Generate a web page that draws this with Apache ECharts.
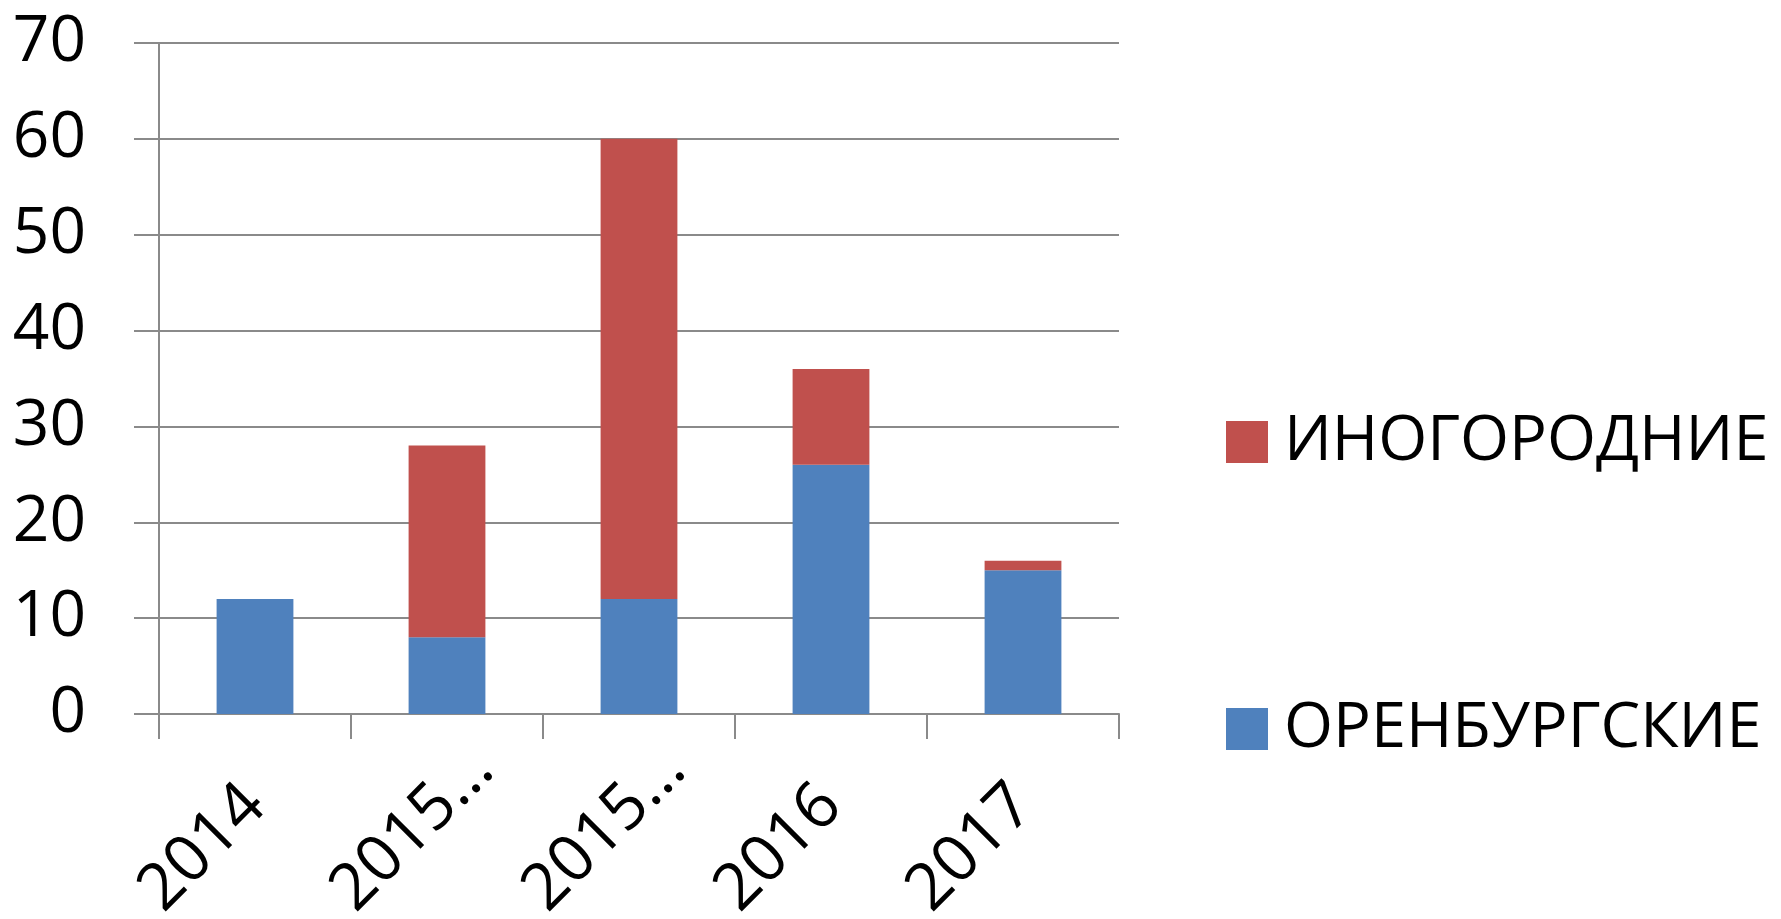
<!DOCTYPE html>
<html>
<head>
<meta charset="utf-8">
<script src="https://cdn.jsdelivr.net/npm/echarts@6/dist/echarts.min.js"></script>
<style>html,body{margin:0;padding:0;background:#fff;}#c{width:1781px;height:919px;}</style>
</head>
<body>
<div id="c"></div>
<script>
const categories = ['2014', '2015…', '2015…', '2016', '2017'];
const orenburg = [12, 8, 12, 26, 15];
const inogorod = [0, 20, 48, 10, 1];
const seriesNames = ['ОРЕНБУРГСКИЕ', 'ИНОГОРОДНИЕ'];
const legendOrder = ['ИНОГОРОДНИЕ', 'ОРЕНБУРГСКИЕ'];

const FONT = '"Open Sans", "Noto Sans", sans-serif';
const AXIS = '#8a8a8a';
const chart = echarts.init(document.getElementById('c'));
chart.setOption({
  animation: false,
  backgroundColor: '#fff',
  grid: { left: 159, right: 662, top: 43, bottom: 205, containLabel: false, outerBoundsMode: 'none' },
  legend: {
    orient: 'vertical',
    left: 1221,
    top: 405,
    data: legendOrder,
    icon: 'rect',
    itemWidth: 42,
    itemHeight: 42,
    itemGap: 223,
    textStyle: { fontFamily: FONT, fontSize: 63, color: '#000', lineHeight: 64, padding: [0, 0, 0, 11] }
  },
  xAxis: {
    type: 'category',
    data: categories,
    axisLine: { show: true, lineStyle: { color: AXIS, width: 2 } },
    axisTick: { show: true, length: 25, alignWithLabel: false, lineStyle: { color: AXIS, width: 2 } },
    axisLabel: {
      rotate: 45, margin: 82, align: 'left', verticalAlign: 'middle',
      padding: [0, 0, 0, -148],
      fontFamily: FONT, fontSize: 65, color: '#000', interval: 0, hideOverlap: false
    },
    splitLine: { show: false }
  },
  yAxis: {
    type: 'value',
    min: 0, max: 70, interval: 10,
    axisLine: { show: true, lineStyle: { color: AXIS, width: 2 } },
    axisTick: { show: true, length: 25, lineStyle: { color: AXIS, width: 2 } },
    axisLabel: { margin: 73, fontFamily: FONT, fontSize: 64, color: '#000' },
    splitLine: { show: true, lineStyle: { color: AXIS, width: 2 } }
  },
  series: [
    { name: seriesNames[0], type: 'bar', stack: 's', data: orenburg, barWidth: '40%', itemStyle: { color: '#4F81BD' } },
    { name: seriesNames[1], type: 'bar', stack: 's', data: inogorod, barWidth: '40%', itemStyle: { color: '#C0504D' } }
  ]
});
</script>
</body>
</html>
